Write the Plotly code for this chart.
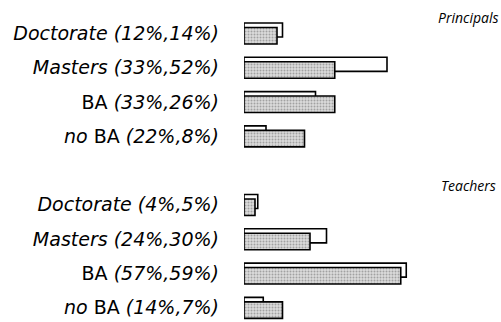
import plotly.graph_objects as go

categories = ["Doctorate", "Masters", "BA", "no BA"]
groups = ["Principals", "Teachers"]
principals_first = [12, 33, 33, 22]
principals_second = [14, 52, 26, 8]
teachers_first = [4, 24, 57, 14]
teachers_second = [5, 30, 59, 7]

first_vals = principals_first + teachers_first
second_vals = principals_second + teachers_second

ypos = []
ticktext = []
for gi, (fv, sv) in enumerate([(principals_first, principals_second), (teachers_first, teachers_second)]):
    for ci, cat in enumerate(categories):
        ypos.append(gi * 5 + ci)
        name = cat.replace("BA", "</i>BA<i>")
        ticktext.append(f"<i>{name} ({fv[ci]}%,{sv[ci]}%)</i>".replace("<i></i>", ""))

LABEL_FONT = "DejaVu Sans"
TITLE_FONT = "Open Sans"

fig = go.Figure()
# back bar (second value), white with black outline, raised
fig.add_trace(go.Bar(
    x=second_vals, y=ypos, orientation="h",
    width=0.41, offset=-0.30,
    marker=dict(color="white", line=dict(color="black", width=1.6)),
    hoverinfo="skip", showlegend=False,
))
# front bar (first value), halftone gray
fig.add_trace(go.Bar(
    x=first_vals, y=ypos, orientation="h",
    width=0.48, offset=-0.17,
    marker=dict(color="#dcdcdc", line=dict(color="black", width=1.6),
                pattern=dict(shape=".", fgcolor="#666666", bgcolor="#dcdcdc",
                             size=3, solidity=0.35)),
    hoverinfo="skip", showlegend=False,
))

px_per_row = 34.3
row0_px = 33.3
H = 322
W = 501
left = 244
xscale = 2.75

fig.update_layout(
    width=W, height=H,
    margin=dict(l=left, r=0, t=0, b=0, autoexpand=False),
    paper_bgcolor="white", plot_bgcolor="white",
    barmode="overlay",
    font=dict(family=LABEL_FONT, size=19, color="black"),
    xaxis=dict(range=[0, (W - left) / xscale], visible=False, fixedrange=True),
    yaxis=dict(
        range=[(H - row0_px) / px_per_row, -row0_px / px_per_row],
        tickvals=ypos, ticktext=ticktext, ticks="",
        showgrid=False, zeroline=False, showline=False,
        ticklabelstandoff=24, fixedrange=True, automargin=False,
        tickfont=dict(family=LABEL_FONT, size=19, color="black"),
    ),
)
fig.add_annotation(text="<i>Principals</i>", xref="paper", x=1.0, xanchor="right",
                   yref="y", y=(17 - row0_px) / px_per_row, showarrow=False,
                   font=dict(family=TITLE_FONT, size=14, color="black"))
fig.add_annotation(text="<i>Teachers</i>", xref="paper", x=0.99, xanchor="right",
                   yref="y", y=(185 - row0_px) / px_per_row, showarrow=False,
                   font=dict(family=TITLE_FONT, size=14, color="black"))

fig.write_html("out.html", config={"displayModeBar": False},
               post_script="document.body.style.margin='0';document.body.style.overflow='hidden';")
